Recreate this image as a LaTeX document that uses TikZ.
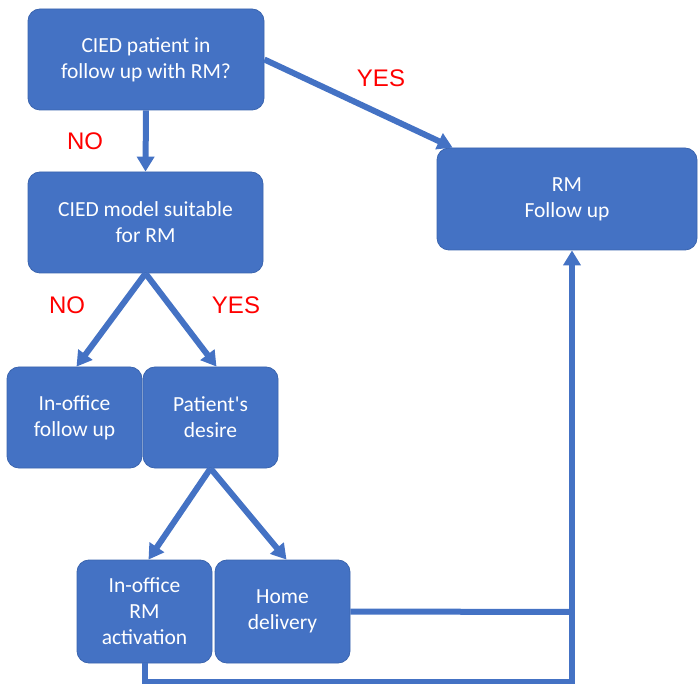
\documentclass[tikz,border=0pt]{standalone}
\usepackage{fontspec}
\setmainfont{Carlito}[Ligatures=TeXOff]
\newfontfamily\labelfont{Liberation Sans}
\usetikzlibrary{arrows.meta,calc,positioning}
\definecolor{boxblue}{HTML}{4472C4}
\definecolor{boxedge}{HTML}{3A64AE}
\definecolor{ansred}{HTML}{FF0000}

\begin{document}
\begin{tikzpicture}[x=1pt,y=-1pt,
  box/.style={rectangle,rounded corners=12pt,fill=boxblue,draw=boxedge,line width=0.8pt,
    text=white,align=center,inner sep=0pt,minimum height=101pt,
    font=\fontsize{21.5}{26}\selectfont},
  link/.style={boxblue,line width=6pt},
  arr/.style={link,-{Triangle[width=17pt,length=15pt]}},
  ans/.style={text=ansred,font=\labelfont\fontsize{24}{28}\selectfont}]
  \useasboundingbox (0,0) rectangle (699,684);
  \node[box,minimum width=236pt] (q1) at (146,59.5) {CIED patient in\\follow up with RM?};
  \node[box,minimum width=235pt] (q2) at (145.5,222.5) {CIED model suitable\\for RM};
  \node[box,minimum width=260pt,minimum height=102pt] (rm) at (567,199) {RM\\Follow up};
  \node[box,minimum width=135pt] (off) at (74.5,417.5) {In-office\\follow up};
  \node[box,minimum width=135pt] (desire) at (210.5,417.5) {Patient's\\desire};
  \node[box,minimum width=135pt,minimum height=103pt] (act) at (144.5,611.5) {In-office\\RM\\activation};
  \node[box,minimum width=135pt,minimum height=103pt] (home) at (282.5,611.5) {Home\\delivery};
  \node[ans] (no1) at (85,141) {NO};
  \node[ans] (yes1) at (381,78) {YES};
  \node[ans] (no2) at (67,305) {NO};
  \node[ans] (yes2) at (236,305) {YES};
  \coordinate (j) at (572,612);
  \coordinate (c) at (572,682);
  \draw[arr] (q1.south) -- (q2.north);
  \draw[arr] (q1.east) -- ([xshift=16pt]rm.north west);
  \draw[arr] (q2.south) -- ([xshift=2pt]off.north);
  \draw[arr] (q2.south) -- ([xshift=6pt]desire.north);
  \draw[arr] (desire.south) -- ([xshift=4pt]act.north);
  \draw[arr] (desire.south) -- ([xshift=4pt]home.north);
  \draw[link] (home.east) -- (j);
  \draw[arr] (act.south) |- (c) -- (c |- rm.south);
\end{tikzpicture}
\end{document}
